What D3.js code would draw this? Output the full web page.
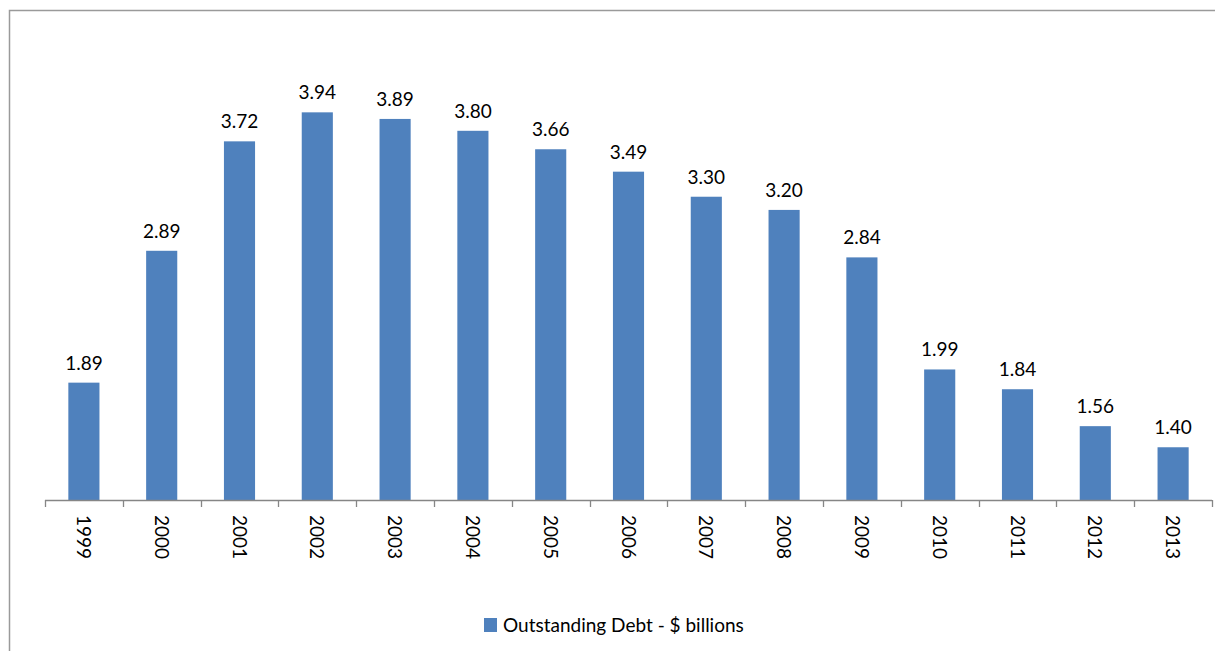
<!DOCTYPE html>
<html>
<head>
<meta charset="utf-8">
<script src="https://cdn.jsdelivr.net/npm/d3@7"></script>
<style>
  body { margin: 0; background: #fff; }
  text { font-family: Lato, "Open Sans", sans-serif; fill: #000; }
</style>
</head>
<body>
<svg id="chart" width="1215" height="651"></svg>
<script>
// Chart data.
const years = ["1999", "2000", "2001", "2002", "2003", "2004", "2005", "2006",
  "2007", "2008", "2009", "2010", "2011", "2012", "2013"];
const debt = [1.89, 2.89, 3.72, 3.94, 3.89, 3.80, 3.66, 3.49, 3.30, 3.20, 2.84, 1.99, 1.84, 1.56, 1.40];
const seriesName = "Outstanding Debt - $ billions";

const svg = d3.select("#chart");

// Outer chart frame (runs off the right and bottom of the picture).
svg.append("rect")
  .attr("x", 9.5).attr("y", 10.5)
  .attr("width", 1300).attr("height", 700)
  .attr("fill", "none")
  .attr("stroke", "#9a9a9a")
  .attr("stroke-width", 1.5);

// Scales.
let x = d3.scaleBand()
  .domain(years)
  .range([45, 1212])
  .paddingInner(0).paddingOuter(0);

// Value axis starts at 1.0 (axis itself is hidden).
let y = d3.scaleLinear()
  .domain([1, 4.5])
  .range([500, 38.5]);

const barW = x.bandwidth() * 0.4;

// Bars.
svg.selectAll(".bar")
  .data(debt)
  .enter().append("rect")
  .attr("class", "bar")
  .attr("x", (d, i) => x(years[i]) + (x.bandwidth() - barW) / 2)
  .attr("y", d => y(d))
  .attr("width", barW)
  .attr("height", d => y(1) - y(d))
  .attr("fill", "#4f81bd");

// Value labels.
svg.selectAll(".val")
  .data(debt)
  .enter().append("text")
  .attr("class", "val")
  .attr("x", (d, i) => x(years[i]) + x.bandwidth() / 2)
  .attr("y", d => y(d) - 13)
  .attr("text-anchor", "middle")
  .attr("font-size", 19)
  .text(d => d.toFixed(2));

// Category axis: line, ticks at band boundaries, rotated labels.
const axisG = svg.append("g");
axisG.append("line")
  .attr("x1", 45).attr("x2", 1212)
  .attr("y1", 500.5).attr("y2", 500.5)
  .attr("stroke", "#868686").attr("stroke-width", 1.3);

const bounds = years.map(d => x(d)).concat([x.range()[1]]);
axisG.selectAll(".tick")
  .data(bounds)
  .enter().append("line")
  .attr("x1", d => Math.round(d) + 0.5).attr("x2", d => Math.round(d) + 0.5)
  .attr("y1", 500).attr("y2", 507)
  .attr("stroke", "#868686").attr("stroke-width", 1.3);

axisG.selectAll(".cat")
  .data(years)
  .enter().append("text")
  .attr("class", "cat")
  .attr("transform", d => "translate(" + (x(d) + x.bandwidth() / 2 - 7) + ",515) rotate(90)")
  .attr("text-anchor", "start")
  .attr("font-size", 19)
  .text(d => d);

// Legend.
const legend = svg.append("g").attr("transform", "translate(484,618)");
legend.append("rect")
  .attr("width", 13).attr("height", 14)
  .attr("fill", "#4f81bd");
legend.append("text")
  .attr("x", 19).attr("y", 14)
  .attr("font-size", 19)
  .text(seriesName);
</script>
</body>
</html>
